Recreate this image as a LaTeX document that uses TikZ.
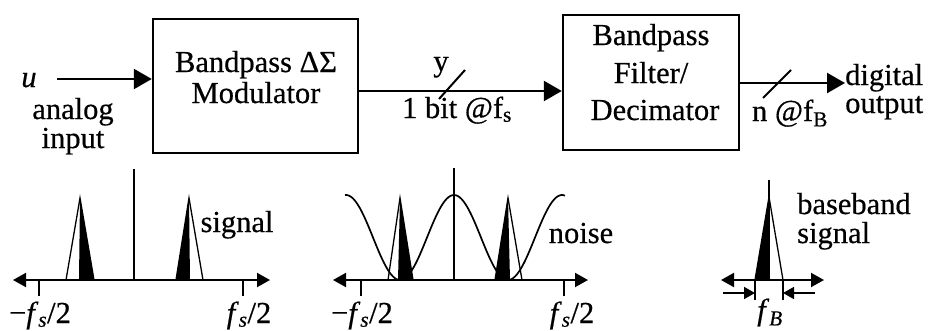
\documentclass[tikz,border=0pt]{standalone}
\usepackage{fontspec}
\setmainfont{Liberation Serif}[FakeBold=0.5]
\usetikzlibrary{arrows.meta}
\begin{document}
\begin{tikzpicture}[x=1pt,y=-1pt,
  blk/.style={draw,line width=2.4pt,inner sep=0pt},
  txt/.style={inner sep=0pt,anchor=base,font=\fontsize{30.5}{34}\selectfont},
  txtl/.style={txt,anchor=base west},
  sig/.style={line width=2.4pt,-{Triangle[length=18pt,width=20pt]}},
  slash/.style={line width=2pt},
  axis/.style={line width=2pt,{Triangle[length=13pt,width=14pt]}-{Triangle[length=13pt,width=14pt]}},
  tick/.style={line width=1.8pt},
  vline/.style={line width=1.8pt},
  tri/.style={line width=1.3pt},
  blk fill/.style={fill=black},
  small arrow/.style={line width=1.6pt,-{Triangle[length=11pt,width=12pt]}}
]
\useasboundingbox (0,0) rectangle (933,330);

% blocks
\node[blk,minimum width=205pt,minimum height=134pt] (m1) at (255.5,86) {};
\node[blk,minimum width=176pt,minimum height=135pt] (m2) at (651,82.5) {};
\node[txt] (m1a) at (256,72) {Bandpass ΔΣ};
\node[txt] (m1b) at (256,103) {Modulator};
\node[txt] (m2a) at (651,45) {Bandpass};
\node[txt] (m2b) at (651,83) {Filter/};
\node[txt] (m2c) at (655,120) {Decimator};

% input
\coordinate (in) at (57,79);
\node[txt] (u) at (29,87) {\textit{u}};
\node[txt] (an) at (73,119) {analog};
\node[txt] (ip) at (73,148) {input};
\draw[sig] (in) -- (in -| m1.west);

% middle
\coordinate (y1) at (357,91);
\draw[sig] (y1) -- (y1 -| m2.west);
\draw[slash] (439,99) -- (465,70);
\node[txt] (ylab) at (441,71) {y};
\node[txt] (bit) at (457,118) {1 bit @f\textsubscript{s}};

% output
\coordinate (o1) at (739,83);
\coordinate (o2) at (845,83);
\draw[sig] (o1) -- (o2);
\draw[slash] (763,98) -- (791,70);
\node[txt] (nb) at (790,121) {n @f\textsubscript{B}};
\node[txtl] (dg) at (845,85) {digital};
\node[txtl] (op) at (845,113) {output};

% plot 1
\draw[axis] (13,280) -- (270,280);
\draw[tick] (39,280) -- (39,296);
\draw[tick] (243,280) -- (243,296);
\draw[vline] (134,169) -- (134,280);
\fill[blk fill] (80,198) -- (79,280) -- (94,280) -- cycle;
\draw[tri] (66,280) -- (80,198) -- (94,280);
\fill[blk fill] (189,198) -- (176,280) -- (190,280) -- cycle;
\draw[tri] (176,280) -- (189,198) -- (203,280);
\node[txt] (sg1) at (237,232) {signal};
\node[txt] (l1) at (40,323) {−\textit{f}\textsubscript{\textit{s}}/2};
\node[txt] (r1) at (249,323) {\textit{f}\textsubscript{\textit{s}}/2};

% plot 2
\draw[axis] (333,280) -- (588,280);
\draw[tick] (361,280) -- (361,296);
\draw[tick] (564,280) -- (564,296);
\draw[vline] (454,168) -- (454,280);
\fill[blk fill] (400,198) -- (398,280) -- (413,280) -- cycle;
\draw[tri] (388,280) -- (400,198) -- (413,280);
\fill[blk fill] (508,198) -- (495,280) -- (510,280) -- cycle;
\draw[tri] (495,280) -- (508,198) -- (522,280);
\draw[line width=1.7pt] plot[domain=345:565,samples=120,smooth] (\x,{280-42.5*(1+cos((\x-454)*3.33333))});
\node[txt] (ns) at (581,243) {noise};
\node[txt] (l2) at (362,323) {−\textit{f}\textsubscript{\textit{s}}/2};
\node[txt] (r2) at (572,323) {\textit{f}\textsubscript{\textit{s}}/2};

% plot 3
\draw[axis] (721,280) -- (824,280);
\draw[vline] (769,180) -- (769,280);
\fill[blk fill] (769,197) -- (755,280) -- (770,280) -- cycle;
\draw[tri] (755,280) -- (769,197) -- (783,280);
\draw[tick] (755,280) -- (755,300);
\draw[tick] (783,280) -- (783,300);
\coordinate (a1) at (723,293);
\coordinate (a2) at (815,293);
\draw[small arrow] (a1) -- (755,293);
\draw[small arrow] (a2) -- (783,293);
\node[txt] (fb) at (770,320) {\textit{f}\textsubscript{\textit{B}}};
\node[txtl] (bb) at (797,214) {baseband};
\node[txtl] (bs) at (797,243) {signal};
\end{tikzpicture}
\end{document}
